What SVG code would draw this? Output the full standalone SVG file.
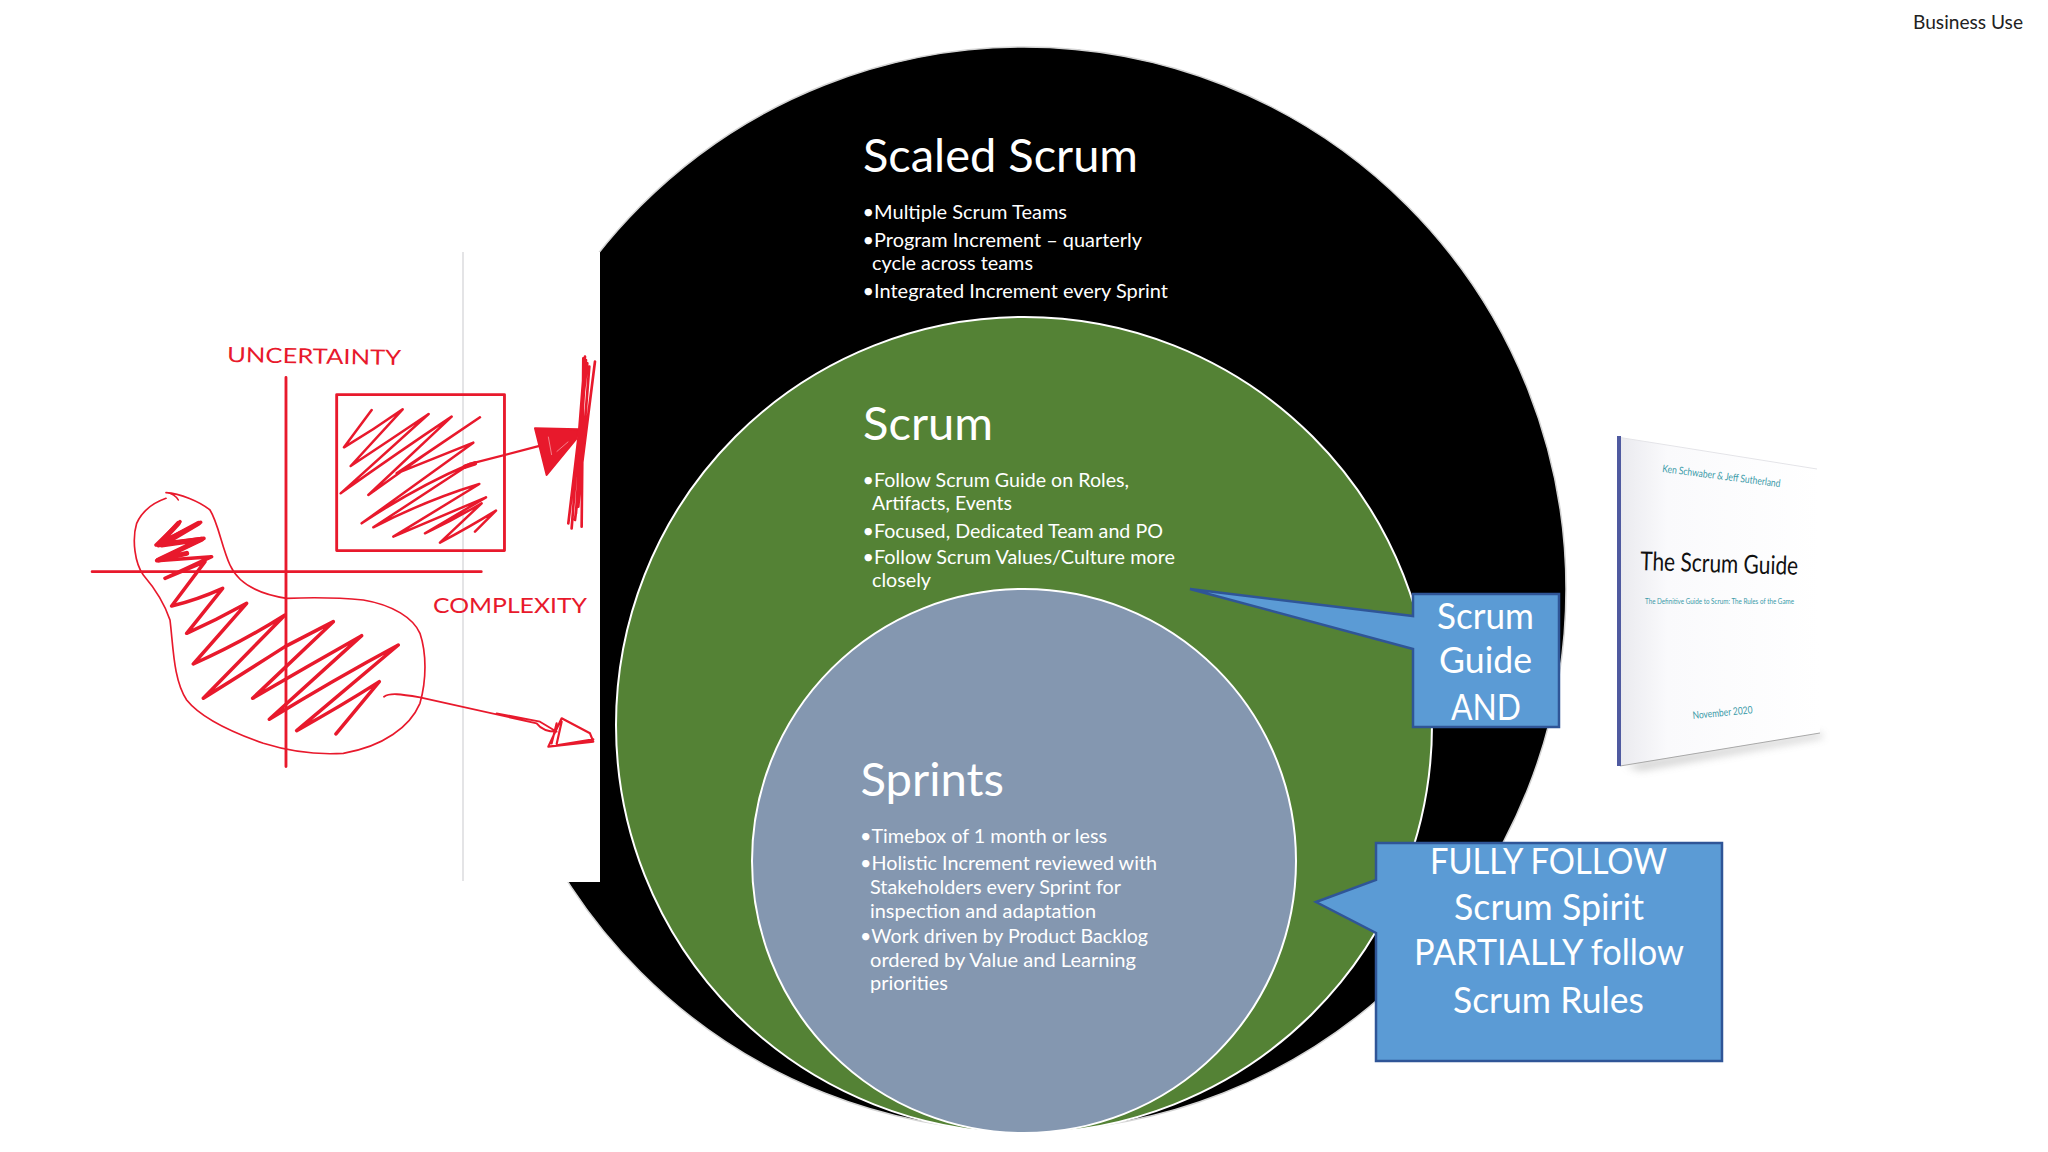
<svg xmlns="http://www.w3.org/2000/svg" width="2048" height="1152" viewBox="0 0 2048 1152">
<defs>
<style>
text{font-family:"Lato","Open Sans","Noto Sans",sans-serif;fill:#fff}
.h{font-size:46px}
.b{font-size:19.5px}
.c{font-size:36px;text-anchor:start}
.red{fill:#e8192c;font-size:21px}
.teal{fill:#3a9aa8}
.ink{fill:none;stroke:#e8192c;stroke-linecap:round;stroke-linejoin:round}
</style>
<linearGradient id="page" x1="0" x2="1" y1="0" y2="0"><stop offset="0" stop-color="#e9e9ee"/><stop offset=".25" stop-color="#fafafc"/><stop offset="1" stop-color="#fff"/></linearGradient>
<filter id="blur" x="-20%" y="-80%" width="140%" height="260%"><feGaussianBlur stdDeviation="4"/></filter>
</defs>
<rect width="2048" height="1152" fill="#fff"/>
<g id="scaled-scrum">
<circle cx="1024" cy="589" r="542" fill="#000" stroke="#d4d4d4" stroke-width="1.5"/>
<rect x="80" y="252" width="520" height="630" fill="#fff"/>
<text class="h" x="863" y="172" textLength="275" lengthAdjust="spacingAndGlyphs">Scaled Scrum</text>
<text class="b" x="862.5" y="219" textLength="204.500" lengthAdjust="spacingAndGlyphs">•Multiple Scrum Teams</text>
<text class="b" x="862.5" y="247" textLength="279.500" lengthAdjust="spacingAndGlyphs">•Program Increment – quarterly</text>
<text class="b" x="872" y="270" textLength="161" lengthAdjust="spacingAndGlyphs">cycle across teams</text>
<text class="b" x="862.5" y="298" textLength="305.500" lengthAdjust="spacingAndGlyphs">•Integrated Increment every Sprint</text>
</g>
<g id="scrum">
<circle cx="1024" cy="725" r="408" fill="#548235" stroke="#fff" stroke-width="2"/>
<text class="h" x="863" y="440" textLength="130" lengthAdjust="spacingAndGlyphs">Scrum</text>
<text class="b" x="862.5" y="487" textLength="266.500" lengthAdjust="spacingAndGlyphs">•Follow Scrum Guide on Roles,</text>
<text class="b" x="872" y="510" textLength="140" lengthAdjust="spacingAndGlyphs">Artifacts, Events</text>
<text class="b" x="862.5" y="538" textLength="300.500" lengthAdjust="spacingAndGlyphs">•Focused, Dedicated Team and PO</text>
<text class="b" x="862.5" y="563.500" textLength="312.500" lengthAdjust="spacingAndGlyphs">•Follow Scrum Values/Culture more</text>
<text class="b" x="872" y="587" textLength="59" lengthAdjust="spacingAndGlyphs">closely</text>
</g>
<g id="sprints">
<circle cx="1024" cy="861" r="272" fill="#8497b0" stroke="#fff" stroke-width="2"/>
<text class="h" x="860.500" y="796" textLength="143.500" lengthAdjust="spacingAndGlyphs">Sprints</text>
<text class="b" x="860" y="843" textLength="247" lengthAdjust="spacingAndGlyphs">•Timebox of 1 month or less</text>
<text class="b" x="860" y="870" textLength="297" lengthAdjust="spacingAndGlyphs">•Holistic Increment reviewed with</text>
<text class="b" x="870" y="894" textLength="251" lengthAdjust="spacingAndGlyphs">Stakeholders every Sprint for</text>
<text class="b" x="870" y="918" textLength="226" lengthAdjust="spacingAndGlyphs">inspection and adaptation</text>
<text class="b" x="860" y="943" textLength="288" lengthAdjust="spacingAndGlyphs">•Work driven by Product Backlog</text>
<text class="b" x="870" y="967" textLength="266" lengthAdjust="spacingAndGlyphs">ordered by Value and Learning</text>
<text class="b" x="870" y="990" textLength="78" lengthAdjust="spacingAndGlyphs">priorities</text>
</g>
<g id="callout-guide">
<path d="M1413 594H1559V727H1413V649L1190 589L1413 616Z" fill="#5b9bd5" stroke="#2f5597" stroke-width="2.5"/>
<text class="c" x="1437" y="629" textLength="97" lengthAdjust="spacingAndGlyphs">Scrum</text>
<text class="c" x="1439" y="673" textLength="93" lengthAdjust="spacingAndGlyphs">Guide</text>
<text class="c" x="1451" y="720" textLength="70" lengthAdjust="spacingAndGlyphs">AND</text>
</g>
<g id="callout-spirit">
<path d="M1376 843H1722V1061H1376V933L1316 902L1376 880Z" fill="#5b9bd5" stroke="#2f5597" stroke-width="2.5"/>
<text class="c" x="1430" y="874" textLength="237" lengthAdjust="spacingAndGlyphs">FULLY FOLLOW</text>
<text class="c" x="1454" y="920" textLength="190" lengthAdjust="spacingAndGlyphs">Scrum Spirit</text>
<text class="c" x="1414" y="965" textLength="270" lengthAdjust="spacingAndGlyphs">PARTIALLY follow</text>
<text class="c" x="1453" y="1013" textLength="191" lengthAdjust="spacingAndGlyphs">Scrum Rules</text>
</g>
<g id="book">
<path d="M1625 765L1820 733L1824 737L1640 770Z" fill="#777" opacity=".4" filter="url(#blur)"/>
<path d="M1617 437L1817 469L1820 733L1618 766Z" fill="url(#page)"/>
<path d="M1617 437L1817 469" fill="none" stroke="#e4e4e8" stroke-width="1"/>
<path d="M1620 766L1820 733" fill="none" stroke="#a8a8a8" stroke-width="1"/>
<path d="M1619 436V766" fill="none" stroke="#4f5aa0" stroke-width="4"/>
<text class="teal" transform="translate(1662 472) rotate(7.3)" font-size="10.5" textLength="119" lengthAdjust="spacingAndGlyphs">Ken Schwaber &amp; Jeff Sutherland</text>
<text transform="translate(1640 570) rotate(1.8)" font-size="26" style="fill:#111" textLength="158" lengthAdjust="spacingAndGlyphs">The Scrum Guide</text>
<text class="teal" x="1645" y="604" font-size="7.5" textLength="149" lengthAdjust="spacingAndGlyphs">The Definitive Guide to Scrum: The Rules of the Game</text>
<text class="teal" transform="translate(1693 719) rotate(-5.5)" font-size="10.5" textLength="60" lengthAdjust="spacingAndGlyphs">November 2020</text>
</g>
<g id="business-use">
<text x="1913" y="29" font-size="19.5" style="fill:#222" textLength="110" lengthAdjust="spacingAndGlyphs">Business Use</text>
</g>
<g id="sketch">
<path d="M463 252V881" stroke="#d2d2d6" stroke-width="1.2" fill="none"/>
<text class="red" x="227" y="362" textLength="174" lengthAdjust="spacingAndGlyphs" transform="rotate(1 227 362)">UNCERTAINTY</text>
<text class="red" x="433" y="613" textLength="154" lengthAdjust="spacingAndGlyphs">COMPLEXITY</text>
<g transform="translate(60 240) scale(.357)">
<path class="ink" stroke-width="8" d="M633 385V1475M90 929H1180M775 433H1245V870H775Z"/>
</g>
<g transform="translate(330 340) scale(.3333)">
<path class="ink" stroke-width="7.500" d="M125 210L42 322Q130 270 218 208L62 378Q180 300 296 222L32 460Q200 340 365 230L115 465Q280 345 450 232L200 400L430 308L95 550Q260 440 420 372L130 562Q290 480 448 432L190 590Q330 530 468 472L285 580Q370 540 455 490L330 608Q420 560 498 512L435 575"/>
</g>
<g transform="translate(130 490) scale(.3333)">
<path class="ink" stroke-width="5" d="M108 8C150 10 210 35 240 60C265 100 275 170 300 225C320 270 370 310 470 325C550 322 620 322 700 330C790 345 850 385 870 430C890 490 890 570 870 640C840 710 760 770 640 790C560 795 480 785 400 760C300 725 210 680 170 630C130 570 130 470 120 390C100 330 70 290 40 255C15 220 5 150 20 100C40 55 80 35 108 25M108 8C125 8 140 20 145 30"/>
<path class="ink" stroke-width="10.500" d="M150 95L78 165L212 97L100 160L222 145L80 212L245 200L105 265L225 215L125 348Q200 330 278 295L170 430Q260 390 350 340L190 522Q330 460 465 375L220 625Q340 550 465 470L610 395L368 625Q530 530 695 437L418 688Q610 570 805 465L500 722Q630 650 748 575L618 732"/>
<path class="ink" stroke-width="15" d="M145 100L85 165L205 100L95 165L215 148L85 210L170 190"/>
</g>
</g>
<g id="connectors">
<g transform="translate(330 340) scale(.3333)">
<path class="ink" stroke-width="7" d="M420 372L640 315"/>
<path class="ink" stroke-width="13" d="M405 380L435 370"/>
<path d="M615 265L745 268L740 295L650 405Z" fill="#e8192c" stroke="#e8192c" stroke-width="6" stroke-linejoin="round"/>
<path d="M655 290L665 345M680 335L715 305" fill="none" stroke="#f2808b" stroke-width="3"/>
<path class="ink" stroke-width="8" d="M765 50L725 565M760 55L755 560M795 65L735 540M772 70L715 550M778 80L745 500M768 60L738 520"/>
</g>
<g transform="translate(380 680) scale(.3333)">
<path class="ink" stroke-width="5.500" d="M12 50C30 38 60 42 120 52L470 130C485 150 505 155 530 155M350 100L480 125L525 152"/>
<path class="ink" stroke-width="6.500" d="M545 115L505 200L640 185L630 160L545 115M530 130L515 190M545 125L530 192M535 195L640 178"/>
</g>
</g>
</svg>
